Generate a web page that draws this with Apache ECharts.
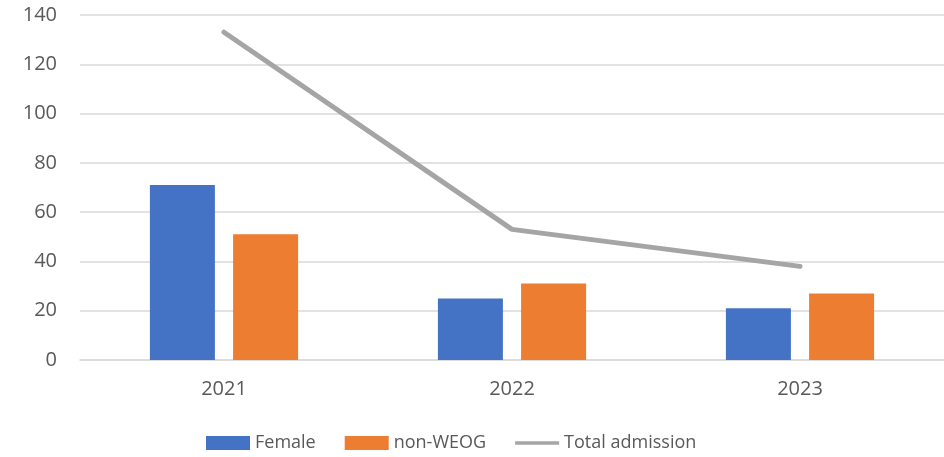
<!DOCTYPE html>
<html><head><meta charset="utf-8">
<script src="https://cdn.jsdelivr.net/npm/echarts@6/dist/echarts.min.js"></script>
<style>html,body{margin:0;padding:0;background:#fff}#c{width:944px;height:457px}</style>
</head><body><div id="c"></div>
<script>
const categories = ['2021', '2022', '2023'];
const female = [71, 25, 21];
const nonWEOG = [51, 31, 27];
const totalAdmission = [133, 53, 38];

const chart = echarts.init(document.getElementById('c'));
const font = 'Open Sans';
const lineIcon = 'path://M0,0 L0,0 M0,5 L48,5 L48,9 L0,9 Z M48,14 L48,14';
chart.setOption({
  animation: false,
  textStyle: { fontFamily: font },
  grid: { left: 80, right: 0, top: 15, bottom: 97, containLabel: false },
  legend: {
    top: 429, left: 201,
    itemWidth: 44, itemHeight: 14, itemGap: 29,
    textStyle: { fontSize: 18, color: '#595959', fontFamily: font },
    data: [
      { name: 'Female', icon: 'rect' },
      { name: 'non-WEOG', icon: 'rect' },
      { name: 'Total admission', icon: lineIcon }
    ]
  },
  xAxis: {
    type: 'category', data: categories,
    axisLine: { lineStyle: { color: '#D9D9D9', width: 1.5 } },
    axisTick: { show: false },
    axisLabel: { fontSize: 20, color: '#595959', margin: 19, fontFamily: font }
  },
  yAxis: {
    type: 'value', min: 0, max: 140, interval: 20,
    axisLine: { show: false }, axisTick: { show: false },
    splitLine: { lineStyle: { color: '#D9D9D9', width: 1.5 } },
    axisLabel: { fontSize: 20, color: '#595959', margin: 23, fontFamily: font }
  },
  series: [
    { name: 'Female', type: 'bar', data: female, barWidth: 65, barGap: '28%',
      itemStyle: { color: '#4472C4' } },
    { name: 'non-WEOG', type: 'bar', data: nonWEOG, barWidth: 65,
      itemStyle: { color: '#ED7D31' } },
    { name: 'Total admission', type: 'line', data: totalAdmission,
      symbol: 'none', lineStyle: { color: '#A5A5A5', width: 5, cap: 'round' },
      itemStyle: { color: '#A5A5A5' } }
  ]
});
</script></body></html>
